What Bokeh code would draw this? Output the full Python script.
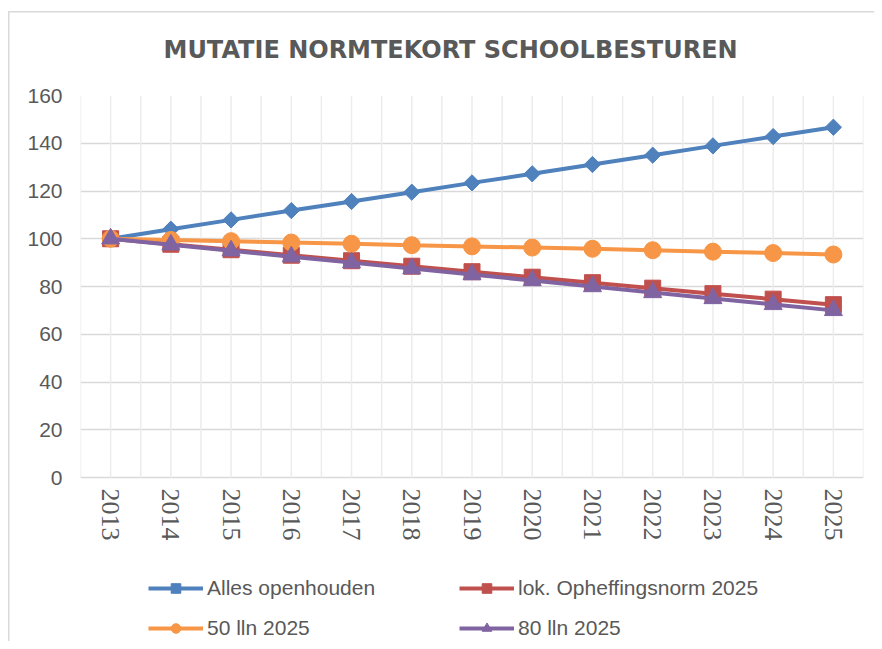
import math
from bokeh.plotting import figure
from bokeh.models import FixedTicker, Legend, LegendItem, Range1d
from bokeh.embed import file_html
from bokeh.resources import INLINE

# ---- data ----
years = ["2013", "2014", "2015", "2016", "2017", "2018", "2019",
         "2020", "2021", "2022", "2023", "2024", "2025"]
alles_openhouden = [100, 104.0, 107.9, 111.8, 115.6, 119.5, 123.4, 127.2, 131.1, 135.0, 138.9, 142.8, 146.7]
lok_opheffingsnorm = [100, 97.7, 95.4, 93.1, 90.8, 88.5, 86.2, 83.9, 81.6, 79.3, 77.0, 74.7, 72.4]
lln50 = [100, 99.5, 99.0, 98.4, 97.9, 97.3, 96.8, 96.3, 95.8, 95.2, 94.6, 94.0, 93.4]
lln80 = [100, 97.5, 95.0, 92.5, 90.0, 87.5, 85.0, 82.5, 80.0, 77.5, 75.0, 72.5, 70.0]
y_ticks = [0, 20, 40, 60, 80, 100, 120, 140, 160]
title_text = "MUTATIE NORMTEKORT SCHOOLBESTUREN"

# ---- layout (pixels) ----
W, H = 874, 641
LEFT, RIGHT, TOP, AXIS_Y = 80, 863, 95, 477   # plot area; AXIS_Y = pixel row of value 0
px_per_unit = (AXIS_Y - TOP) / (y_ticks[-1] - y_ticks[0])
y_start = y_ticks[0] - (H - AXIS_Y) / px_per_unit   # frame extends to the figure bottom

xs = list(range(len(years)))
TXT = "#595959"
FONT = "Liberation Sans"

p = figure(width=W, height=H, output_backend="svg", toolbar_location=None,
           x_range=Range1d(-0.5, len(years) - 0.5),
           y_range=Range1d(y_start, y_ticks[-1]),
           title=title_text,
           min_border_left=LEFT, min_border_right=W - RIGHT,
           min_border_top=TOP, min_border_bottom=0)
p.outline_line_color = None
p.background_fill_color = "white"
p.border_fill_alpha = 0
# chart-area border (left and top edges), drawn as a CSS background behind the canvas
p.styles = {
    "background": "linear-gradient(#d9d9d9, #d9d9d9) 8px 11px / 1.5px 100% no-repeat, "
                  "linear-gradient(#d9d9d9, #d9d9d9) 8px 11px / 100% 1.5px no-repeat, white"
}

p.title.align = "left"
p.title.offset = 83
p.title.standoff = 63
p.title.text_font = "DejaVu Sans"
p.title.text_font_style = "bold"
p.title.text_font_size = "24px"
p.title.text_color = TXT

# vertical grid (category centres and boundaries), only over the value area
bounds = [i * 0.5 - 0.5 for i in range(2 * len(years) + 1)]
p.segment(x0=bounds, y0=[y_ticks[0]] * len(bounds), x1=bounds, y1=[y_ticks[-1]] * len(bounds),
          line_color="#ececec", line_width=1.5)
p.xgrid.visible = False
p.ygrid.ticker = FixedTicker(ticks=y_ticks)
p.ygrid.grid_line_color = "#d9d9d9"
p.ygrid.grid_line_width = 1.5
p.xaxis.visible = False

# year labels below the value area
p.text(x=xs, y=[y_ticks[0]] * len(xs), text=years, angle=-math.pi / 2,
       y_offset=11, text_align="left", text_baseline="middle",
       text_font="Liberation Sans", text_font_size="26px", text_color=TXT)

ya = p.yaxis[0]
ya.ticker = FixedTicker(ticks=y_ticks)
ya.major_label_text_font = FONT
ya.major_label_text_font_size = "21px"
ya.major_label_text_color = TXT
ya.major_label_standoff = 18
ya.major_tick_out = 0
ya.major_tick_in = 0
ya.minor_tick_out = 0
ya.minor_tick_in = 0
ya.major_tick_line_color = None
ya.minor_tick_line_color = None
ya.axis_line_color = None

series = [
    ("Alles openhouden", alles_openhouden, "#4F81BD", "square", math.pi / 4, 11.5),
    ("lok. Opheffingsnorm 2025", lok_opheffingsnorm, "#C0504D", "square", 0, 16),
    ("50 lln 2025", lln50, "#F79646", "circle", 0, 17),
    ("80 lln 2025", lln80, "#8064A2", "triangle", 0, 18),
]
items = {}
for name, vals, col, marker, ang, size in series:
    r1 = p.line(xs, vals, line_color=col, line_width=4)
    r2 = p.scatter(xs, vals, marker=marker, angle=ang, size=size,
                   fill_color=col, line_color=col)
    items[name] = LegendItem(label=name, renderers=[r1, r2])


def make_legend(its, loc):
    lg = Legend(items=its, location=loc, orientation="vertical",
                padding=0, margin=0, spacing=16,
                border_line_color=None, background_fill_alpha=0,
                glyph_width=55, glyph_height=24, label_height=24,
                label_standoff=4, label_text_font=FONT,
                label_text_font_size="21px", label_text_color=TXT)
    p.add_layout(lg, "center")


make_legend([items["Alles openhouden"], items["50 lln 2025"]], (68, 1))
make_legend([items["lok. Opheffingsnorm 2025"], items["80 lln 2025"]], (379, 1))

open("out.html", "w").write(file_html(p, INLINE))
